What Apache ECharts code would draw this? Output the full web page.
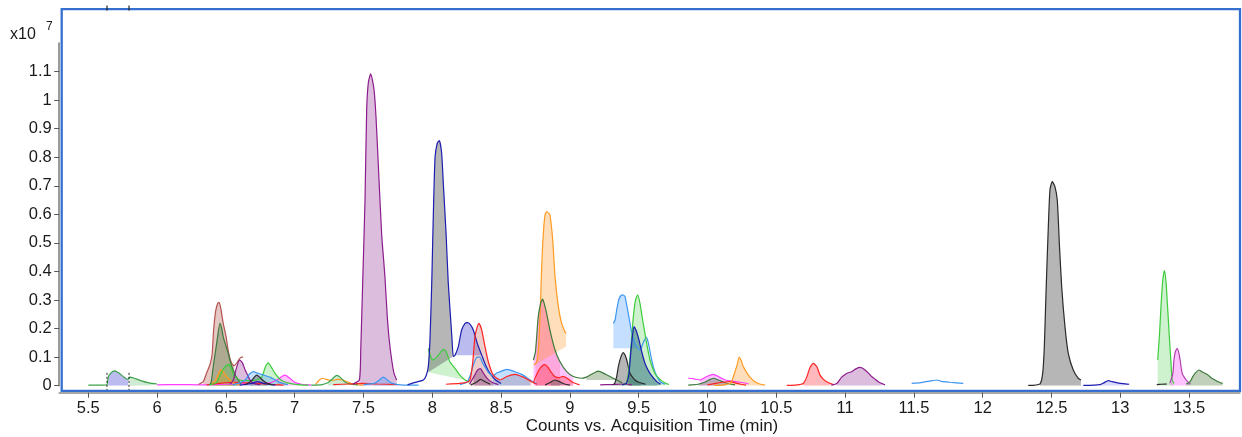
<!DOCTYPE html>
<html><head><meta charset="utf-8">
<script src="https://cdn.jsdelivr.net/npm/echarts@6/dist/echarts.min.js"></script>
<style>html,body{margin:0;padding:0;background:#fff}#c{width:1242px;height:437px}</style>
</head><body><div id="c"></div>
<script>
// ---- tick labels ----
const xTicks = [5.5,6,6.5,7,7.5,8,8.5,9,9.5,10,10.5,11,11.5,12,12.5,13,13.5];
const yTicks = [0,0.1,0.2,0.3,0.4,0.5,0.6,0.7,0.8,0.9,1,1.1];
const markTimes = [5.636, 5.796];
const xTitle = 'Counts vs. Acquisition Time (min)';

// ---- traces: [time (min), counts (x10^7)] ----
const grn57 = [[5.5,0.002],[5.6,0.002],[5.635,0.003],[5.645,0.03],[5.665,0.045],[5.69,0.052],[5.72,0.045],[5.76,0.03],[5.79,0.022],[5.8,0.03],[5.83,0.027],[5.88,0.018],[5.94,0.01],[6.0,0.006]];
const mag60 = [[6.0,0.003],[6.15,0.004],[6.3,0.003],[6.5,0.005],[6.7,0.008],[6.82,0.01],[6.87,0.02],[6.91,0.033],[6.93,0.037],[6.96,0.028],[7.0,0.012],[7.05,0.005],[7.12,0.002]];
const brn645 = [[6.3,0.004],[6.335,0.014],[6.36,0.045],[6.385,0.075],[6.4,0.11],[6.41,0.19],[6.425,0.26],[6.44,0.288],[6.451,0.292],[6.465,0.265],[6.48,0.22],[6.5,0.175],[6.52,0.115],[6.54,0.08],[6.56,0.07],[6.58,0.08],[6.6,0.095],[6.615,0.1],[6.625,0.1]];
const dg645 = [[6.38,0.003],[6.392,0.01],[6.408,0.067],[6.433,0.148],[6.457,0.218],[6.47,0.2],[6.481,0.17],[6.5,0.14],[6.517,0.113],[6.535,0.08],[6.554,0.055],[6.57,0.035],[6.59,0.02],[6.61,0.005]];
const lg65 = [[6.38,0.003],[6.43,0.01],[6.46,0.04],[6.49,0.065],[6.52,0.075],[6.54,0.06],[6.56,0.035],[6.6,0.02],[6.66,0.018],[6.72,0.02],[6.76,0.03],[6.79,0.07],[6.808,0.08],[6.83,0.065],[6.857,0.043],[6.9,0.02],[6.95,0.01],[7.02,0.004],[7.1,0.002]];
const or647 = [[6.38,0.003],[6.42,0.015],[6.445,0.04],[6.462,0.057],[6.48,0.05],[6.5,0.035],[6.53,0.02],[6.56,0.008],[6.6,0.003]];
const pu661 = [[6.53,0.005],[6.554,0.02],[6.575,0.06],[6.6,0.09],[6.62,0.08],[6.64,0.055],[6.66,0.035],[6.675,0.02],[6.7,0.008],[6.75,0.003]];
const lb67 = [[6.55,0.003],[6.6,0.01],[6.64,0.02],[6.67,0.04],[6.7,0.049],[6.73,0.044],[6.77,0.038],[6.82,0.03],[6.86,0.02],[6.9,0.01],[6.95,0.004]];
const bk673 = [[6.64,0.003],[6.68,0.015],[6.71,0.032],[6.724,0.037],[6.745,0.03],[6.77,0.018],[6.8,0.008],[6.84,0.003]];
const nv673 = [[6.6,0.002],[6.66,0.006],[6.7,0.01],[6.73,0.014],[6.76,0.01],[6.8,0.006],[6.86,0.002]];
const rd64 = [[6.36,0.003],[6.45,0.008],[6.55,0.012],[6.65,0.01],[6.75,0.007],[6.85,0.004],[6.92,0.002]];
const g73 = [[7.12,0.002],[7.2,0.004],[7.24,0.01],[7.27,0.022],[7.305,0.036],[7.33,0.03],[7.36,0.015],[7.4,0.006],[7.46,0.003]];
const or72 = [[7.15,0.004],[7.18,0.02],[7.2,0.026],[7.23,0.022],[7.27,0.018],[7.31,0.022],[7.35,0.02],[7.39,0.012],[7.43,0.005],[7.5,0.002]];
const rd73 = [[7.28,0.004],[7.4,0.006],[7.5,0.008],[7.6,0.006],[7.75,0.004]];
const pu755 = [[7.42,0.005],[7.47,0.02],[7.48,0.125],[7.494,0.36],[7.511,0.65],[7.523,0.966],[7.535,1.06],[7.552,1.092],[7.565,1.07],[7.578,1.03],[7.591,0.94],[7.608,0.77],[7.632,0.53],[7.656,0.38],[7.673,0.24],[7.687,0.16],[7.705,0.09],[7.722,0.043],[7.741,0.02]];
const lb765 = [[7.5,0.004],[7.58,0.008],[7.62,0.022],[7.644,0.03],[7.67,0.022],[7.7,0.01],[7.75,0.004],[7.85,0.002],[7.9,0.002]];
const nv80 = [[7.82,0.003],[7.862,0.01],[7.935,0.02],[7.955,0.035],[7.971,0.067],[7.983,0.16],[7.996,0.36],[8.007,0.59],[8.02,0.8],[8.036,0.849],[8.051,0.858],[8.068,0.814],[8.08,0.709],[8.1,0.534],[8.116,0.36],[8.141,0.18],[8.153,0.102],[8.165,0.107],[8.189,0.137],[8.213,0.195],[8.238,0.218],[8.254,0.221],[8.275,0.215],[8.298,0.195],[8.327,0.148],[8.359,0.107],[8.39,0.069],[8.419,0.043],[8.46,0.02],[8.5,0.008]];
const lg808 = [[7.971,0.131],[7.99,0.1],[8.007,0.09],[8.044,0.107],[8.08,0.127],[8.1,0.12],[8.128,0.084],[8.165,0.061],[8.201,0.037],[8.238,0.02],[8.27,0.012]];
const rd835 = [[8.1,0.005],[8.2,0.008],[8.25,0.012],[8.274,0.02],[8.293,0.078],[8.31,0.172],[8.327,0.207],[8.339,0.218],[8.359,0.195],[8.383,0.137],[8.407,0.084],[8.443,0.037],[8.492,0.02],[8.541,0.032],[8.601,0.04],[8.661,0.03],[8.722,0.014],[8.76,0.005]];
const lb83 = [[8.2,0.004],[8.25,0.012],[8.275,0.035],[8.3,0.075],[8.325,0.1],[8.345,0.1],[8.365,0.08],[8.39,0.06],[8.41,0.045],[8.44,0.035],[8.47,0.045],[8.492,0.049],[8.541,0.057],[8.6,0.049],[8.66,0.037],[8.71,0.02],[8.76,0.006]];
const pu834 = [[8.27,0.005],[8.3,0.03],[8.33,0.055],[8.35,0.06],[8.37,0.045],[8.4,0.025],[8.44,0.01],[8.48,0.004]];
const bk835 = [[8.28,0.003],[8.32,0.012],[8.35,0.022],[8.38,0.015],[8.42,0.005]];
const or885 = [[8.739,0.072],[8.759,0.084],[8.771,0.125],[8.783,0.242],[8.795,0.417],[8.807,0.534],[8.82,0.6],[8.831,0.61],[8.843,0.605],[8.855,0.598],[8.875,0.51],[8.892,0.382],[8.916,0.277],[8.94,0.218],[8.964,0.189],[8.972,0.183]];
const dg88 = [[8.735,0.09],[8.75,0.12],[8.77,0.242],[8.788,0.289],[8.802,0.303],[8.815,0.285],[8.831,0.253],[8.855,0.195],[8.892,0.125],[8.928,0.084],[8.977,0.049],[9.025,0.032],[9.086,0.026],[9.12,0.03],[9.158,0.04],[9.206,0.051],[9.255,0.041],[9.304,0.029],[9.34,0.02],[9.38,0.01]];
const rd88 = [[8.735,0.01],[8.75,0.03],[8.775,0.055],[8.8,0.07],[8.819,0.074],[8.84,0.065],[8.86,0.05],[8.89,0.032],[8.92,0.028],[8.95,0.033],[8.98,0.026],[9.02,0.012],[9.07,0.003]];
const bk888 = [[8.82,0.003],[8.86,0.012],[8.89,0.02],[8.92,0.015],[8.96,0.006],[9.0,0.002]];
const pu93 = [[9.22,0.003],[9.3,0.004],[9.4,0.006],[9.45,0.003]];
const bk938 = [[9.31,0.003],[9.325,0.008],[9.34,0.032],[9.352,0.067],[9.37,0.1],[9.388,0.116],[9.4,0.108],[9.413,0.09],[9.425,0.065],[9.437,0.043],[9.455,0.03],[9.473,0.02],[9.5,0.012],[9.55,0.005]];
const lb937 = [[9.316,0.218],[9.328,0.23],[9.34,0.265],[9.35,0.29],[9.359,0.306],[9.372,0.316],[9.384,0.318],[9.4,0.312],[9.41,0.29],[9.42,0.265],[9.437,0.218],[9.456,0.172],[9.486,0.137],[9.51,0.125],[9.533,0.15],[9.555,0.17],[9.57,0.15],[9.59,0.1],[9.61,0.06],[9.635,0.03],[9.66,0.012],[9.69,0.005]];
const nv945 = [[9.38,0.003],[9.41,0.008],[9.425,0.03],[9.432,0.055],[9.442,0.113],[9.454,0.172],[9.466,0.207],[9.475,0.2],[9.485,0.189],[9.502,0.16],[9.522,0.119],[9.546,0.078],[9.582,0.043],[9.631,0.014],[9.66,0.005]];
const lg95 = [[9.38,0.003],[9.41,0.01],[9.425,0.043],[9.437,0.1],[9.45,0.172],[9.461,0.242],[9.477,0.3],[9.493,0.318],[9.509,0.289],[9.533,0.218],[9.558,0.148],[9.582,0.09],[9.618,0.043],[9.655,0.022],[9.69,0.01],[9.72,0.004]];
const mg100 = [[9.86,0.026],[9.9,0.024],[9.945,0.02],[9.994,0.032],[10.042,0.04],[10.08,0.032],[10.13,0.02],[10.18,0.016],[10.24,0.012],[10.3,0.006]];
const dg100 = [[9.86,0.002],[9.93,0.005],[9.98,0.012],[10.01,0.02],[10.042,0.026],[10.08,0.02],[10.12,0.012],[10.16,0.006],[10.2,0.003]];
const rd101 = [[10.0,0.003],[10.06,0.008],[10.11,0.012],[10.163,0.014],[10.2,0.01],[10.24,0.005],[10.28,0.002]];
const or1023 = [[10.05,0.001],[10.13,0.004],[10.17,0.01],[10.187,0.03],[10.2,0.05],[10.212,0.067],[10.231,0.1],[10.245,0.088],[10.26,0.067],[10.28,0.05],[10.297,0.037],[10.32,0.024],[10.345,0.014],[10.38,0.006],[10.418,0.002]];
const rd1077 = [[10.576,0.001],[10.65,0.003],[10.696,0.008],[10.721,0.03],[10.745,0.064],[10.769,0.078],[10.794,0.067],[10.818,0.037],[10.84,0.024],[10.866,0.014],[10.92,0.003]];
const pu111 = [[10.9,0.002],[10.94,0.008],[10.975,0.03],[11.011,0.043],[11.048,0.049],[11.075,0.058],[11.103,0.064],[11.125,0.062],[11.145,0.055],[11.17,0.044],[11.193,0.032],[11.22,0.022],[11.241,0.014],[11.29,0.003]];
const lb1165 = [[11.484,0.008],[11.55,0.011],[11.6,0.015],[11.635,0.018],[11.666,0.02],[11.7,0.015],[11.76,0.012],[11.859,0.008]];
const bk125 = [[12.331,0.001],[12.416,0.006],[12.436,0.043],[12.448,0.137],[12.46,0.324],[12.477,0.557],[12.489,0.686],[12.506,0.715],[12.525,0.697],[12.542,0.65],[12.557,0.499],[12.574,0.347],[12.598,0.207],[12.622,0.113],[12.658,0.055],[12.695,0.026],[12.714,0.02]];
const nv129 = [[12.731,0.001],[12.852,0.004],[12.88,0.01],[12.913,0.018],[12.94,0.014],[12.98,0.01],[13.02,0.007],[13.065,0.005]];
const bk133 = [[13.265,0.004],[13.3,0.005],[13.34,0.006]];
const lg1332 = [[13.272,0.09],[13.285,0.18],[13.297,0.289],[13.309,0.37],[13.321,0.403],[13.333,0.359],[13.345,0.265],[13.358,0.16],[13.37,0.067],[13.377,0.02],[13.39,0.008]];
const mg134 = [[13.36,0.008],[13.382,0.043],[13.39,0.09],[13.4,0.119],[13.414,0.131],[13.431,0.102],[13.45,0.043],[13.479,0.02],[13.51,0.005]];
const dg136 = [[13.48,0.006],[13.507,0.014],[13.525,0.03],[13.543,0.043],[13.572,0.055],[13.59,0.05],[13.603,0.046],[13.62,0.043],[13.639,0.037],[13.66,0.028],[13.688,0.02],[13.72,0.012],[13.744,0.008]];

// ---- styles ----
const C = {
  purple:'#8b1c8b', brown:'#b5524f', dkgreen:'#3b7a3b', green:'#3aa34a', lgreen:'#3ccc3c',
  orange:'#ff9a20', black:'#2a2a2a', navy:'#1c1cb0', red:'#ff2424', lblue:'#3d96f0',
  magenta:'#ff3cff', dmag:'#b040b0'
};
const F = {
  purple:'rgba(150,50,150,0.32)', brown:'rgba(170,70,60,0.3)', dkgreen:'rgba(60,110,40,0.32)',
  green:'rgba(60,170,80,0.25)', lgreen:'rgba(60,200,60,0.25)', orange:'rgba(255,150,30,0.3)',
  gray:'rgba(110,110,110,0.5)', lav:'rgba(60,60,210,0.35)', red:'rgba(255,40,50,0.33)',
  rose:'rgba(190,90,90,0.3)', lblue:'rgba(60,150,255,0.3)', magenta:'rgba(255,60,255,0.3)',
  salmon:'rgba(255,70,100,0.22)', teal:'rgba(20,90,110,0.45)', dpurple:'rgba(110,30,110,0.35)'
};
const fills = [
  {d:grn57, t0:5.645, t1:5.79, c:F.lav}, {d:grn57, t0:5.8, t1:6.0, c:F.green},
  {d:mag60, t0:6.87, t1:7.05, c:F.magenta},
  {d:brn645, t0:6.335, t1:6.56, c:F.brown}, {d:dg645, t0:6.392, t1:6.61, c:F.dkgreen},
  {d:lg65, t0:6.43, t1:6.6, c:F.lgreen}, {d:lg65, t0:6.76, t1:6.95, c:F.lgreen},
  {d:or647, t0:6.42, t1:6.56, c:F.orange}, {d:pu661, t0:6.554, t1:6.7, c:F.purple},
  {d:lb67, t0:6.6, t1:6.9, c:F.lblue}, {d:bk673, t0:6.68, t1:6.8, c:F.gray},
  {d:g73, t0:7.24, t1:7.4, c:F.green}, {d:pu755, t0:7.47, t1:7.741, c:F.purple},
  {d:lb765, t0:7.58, t1:7.75, c:F.lblue},
  {d:lg808, t0:7.971, t1:8.238, b0:0.047, b1:0.02, c:F.lgreen},
  {d:nv80, t0:7.971, t1:8.165, b0:0.047, b1:0.107, c:F.gray},
  {d:nv80, t0:8.165, t1:8.359, b0:0.107, b1:0.107, c:F.lav},
  {d:rd835, t0:8.274, t1:8.722, c:F.rose}, {d:lb83, t0:8.44, t1:8.71, c:F.lblue},
  {d:pu834, t0:8.3, t1:8.44, c:F.dpurple},
  {d:dg88, t0:8.735, t1:9.025, c:F.magenta}, {d:dg88, t0:8.75, t1:8.928, c:F.salmon},
  {d:dg88, t0:9.12, t1:9.34, b0:0.02, b1:0.02, c:F.dkgreen},
  {d:or885, t0:8.739, t1:8.972, b0:0.072, b1:0.137, c:F.orange},
  {d:rd88, t0:8.75, t1:9.02, c:F.red}, {d:bk888, t0:8.86, t1:8.96, c:F.gray},
  {d:bk938, t0:9.325, t1:9.55, c:F.gray},
  {d:lg95, t0:9.41, t1:9.72, c:F.lgreen},
  {d:lb937, t0:9.316, t1:9.486, b0:0.131, b1:0.131, c:F.lblue},
  {d:nv945, t0:9.425, t1:9.66, c:F.teal},
  {d:mg100, t0:9.945, t1:10.13, c:F.magenta}, {d:dg100, t0:9.93, t1:10.16, c:F.dkgreen},
  {d:or1023, t0:10.17, t1:10.418, c:F.orange}, {d:rd1077, t0:10.696, t1:10.92, c:F.red},
  {d:pu111, t0:10.94, t1:11.29, c:F.purple}, {d:bk125, t0:12.416, t1:12.714, c:F.gray},
  {d:nv129, t0:12.852, t1:13.065, c:'rgba(60,60,220,0.2)'},
  {d:lg1332, t0:13.272, t1:13.39, c:F.lgreen}, {d:mg134, t0:13.36, t1:13.51, c:F.magenta},
  {d:dg136, t0:13.48, t1:13.744, c:F.dkgreen}
];
const lines = [
  [grn57,C.green],[mag60,C.magenta],[rd64,C.red],[or647,C.orange],[brn645,C.brown],[dg645,C.dkgreen],
  [lg65,C.lgreen],[pu661,C.purple],[lb67,C.lblue],[nv673,C.navy],[bk673,C.black],[or72,C.orange],
  [g73,C.green],[rd73,C.red],[lb765,C.lblue],[pu755,C.purple],[lg808,C.lgreen],[nv80,C.navy],
  [pu834,C.purple],[bk835,C.black],[lb83,C.lblue],[rd835,C.red],[rd88,C.red],[bk888,C.black],
  [or885,C.orange],[dg88,C.dkgreen],[pu93,C.purple],[bk938,C.black],[lb937,C.lblue],[lg95,C.lgreen],
  [nv945,C.navy],[dg100,C.dkgreen],[mg100,C.magenta],[rd101,C.red],[or1023,C.orange],[rd1077,C.red],
  [pu111,C.purple],[lb1165,C.lblue],[bk125,C.black],[nv129,C.navy],[bk133,C.black],[lg1332,C.lgreen],
  [mg134,C.dmag],[dg136,C.dkgreen]
];

const SM = 0.2;
const series = [];
fills.forEach(f => {
  const pts = f.d.filter(p => p[0] >= f.t0 - 1e-9 && p[0] <= f.t1 + 1e-9);
  const b0 = f.b0 || 0, b1 = f.b1 || 0;
  if (!b0 && !b1) {
    series.push({type:'line', symbol:'none', silent:true, z:1, smooth:SM, lineStyle:{width:0, opacity:0},
      data: pts, areaStyle:{color:f.c, opacity:1}});
  } else {
    // filled region between the trace and a (possibly sloped) integration baseline
    const ta = pts[0][0], tb = pts[pts.length - 1][0];
    const base = t => b0 + (b1 - b0) * (t - ta) / (tb - ta);
    series.push({type:'custom', coordinateSystem:'cartesian2d', silent:true, z:1,
      data: pts, encode:{x:0, y:1},
      renderItem: (params, api) => {
        if (params.dataIndex !== 0) return null;
        const top = pts.map(p => api.coord([p[0], p[1]]));
        const bot = pts.slice().reverse().map(p => api.coord([p[0], base(p[0])]));
        return {type:'polygon', shape:{points: top.concat(bot)}, style:{fill: f.c}};
      }});
  }
});
lines.forEach(l => series.push({type:'line', symbol:'none', silent:true, z:3, smooth:SM, data:l[0], lineStyle:{color:l[1], width:1.2}}));

const FONT = 'Liberation Sans, Arial, sans-serif';
const chart = echarts.init(document.getElementById('c'), null, {renderer:'canvas'});
chart.setOption({
  animation:false,
  backgroundColor:'#fff',
  grid:{left:59.2, right:2, top:43, bottom:51.3, containLabel:false, outerBoundsMode:'none'},
  xAxis:{type:'value', min:5.2885, max:13.87, offset:7,
    axisLine:{show:true, onZero:false, lineStyle:{color:'#8a8a8a', width:1.5}},
    axisTick:{show:true, length:5, lineStyle:{color:'#555'}, customValues:xTicks},
    axisLabel:{fontFamily:FONT, fontSize:16.5, color:'#1a1a1a', margin:7, customValues:xTicks},
    splitLine:{show:false}},
  yAxis:{type:'value', min:0, max:1.2,
    axisLine:{show:true, onZero:false, lineStyle:{color:'#7a7a7a', width:1.5}},
    axisTick:{show:true, length:5, lineStyle:{color:'#555'}, customValues:yTicks},
    axisLabel:{fontFamily:FONT, fontSize:16.5, color:'#1a1a1a', margin:7.5, customValues:yTicks},
    splitLine:{show:false}},
  series: series
});

const g = [
  {type:'rect', shape:{x:61.7, y:9.2, width:1178.3, height:381.6}, style:{fill:'none', stroke:'#356fd0', lineWidth:2.3}, z:50},
  {type:'text', left:10, top:27, style:{text:'x10', font:'16px ' + FONT, fill:'#1a1a1a'}},
  {type:'text', left:46, top:21, style:{text:'7', font:'12px ' + FONT, fill:'#1a1a1a'}},
  {type:'text', x:652, y:426.5, style:{text:xTitle, font:'17px ' + FONT, fill:'#1a1a1a', align:'center', verticalAlign:'middle'}}
];
markTimes.forEach(t => {
  const p = chart.convertToPixel({gridIndex:0}, [t, 0.045]);
  const q = chart.convertToPixel({gridIndex:0}, [t, 0]);
  g.push({type:'line', shape:{x1:p[0], y1:p[1], x2:q[0], y2:q[1] + 6}, style:{stroke:'#222', lineWidth:1, lineDash:[2,2]}, z:40});
  g.push({type:'line', shape:{x1:p[0], y1:5.5, x2:p[0], y2:10.5}, style:{stroke:'#222', lineWidth:1.2}, z:60});
});
chart.setOption({graphic:g});
</script></body></html>
